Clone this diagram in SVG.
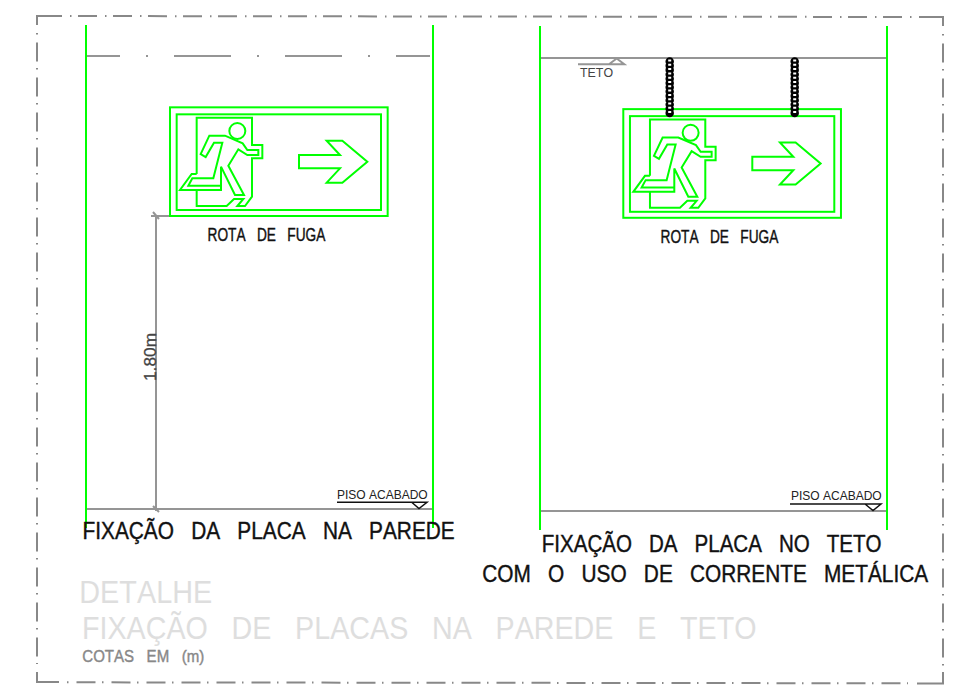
<svg xmlns="http://www.w3.org/2000/svg" width="954" height="696" viewBox="0 0 954 696">
<style>
text{font-family:"Liberation Sans",Arial,sans-serif;font-kerning:none}
.t{word-spacing:.55em}
.blk{fill:#111;stroke:#111;stroke-width:.4;font-size:23.6px}
.rota{fill:#111;stroke:#111;stroke-width:.4;font-size:17.7px}
.pale{fill:#dedede;font-size:32px}
.gray{stroke:#959595;stroke-width:2;fill:none}
.bord{stroke:#888;stroke-width:2;fill:none;stroke-dasharray:19 8 1.5 6.5}
.bordv{stroke:#888;stroke-width:2;fill:none;stroke-dasharray:1.5 8 19 6.5}
.corner{stroke:#888;stroke-width:2;fill:none}
.wall{stroke:#00ff00;stroke-width:2;fill:none}
.g{stroke:#00ff00;fill:none}
.lv{stroke:#111;stroke-width:1.5;fill:none}
.chainb{stroke:#000;stroke-width:8.5;stroke-linecap:round;stroke-dasharray:0 4.3}
.chainw{stroke:#fff;stroke-width:3;stroke-dasharray:2 2.3}
</style>
<defs>
<g id="sign" transform="translate(160,95) scale(.33333)">
<rect class="g" stroke-width="6" x="30" y="37" width="653" height="326"/>
<rect class="g" stroke-width="6" x="50" y="58" width="613" height="287"/>
<path class="g" stroke-width="6" d="M110,237V68H276V150H307V190H276V305L255,333H232L250,312H222L200,333H110V285"/>
<path class="g" stroke-width="6" d="M110,237H95L60,285H183V272H85L97,250H160L187,143H162L137,186L122,177L148,122H195L248,145L262,165H295V180H262L235,163L205,212L252,300H225L183,215V272"/>
<circle class="g" stroke-width="6" cx="232" cy="108" r="24"/>
<path class="g" stroke-width="6" d="M417,180H540L500,137H547L622,200L547,263H500L540,220H417Z"/>
</g>
</defs>
<g id="frame">
<path class="corner" d="M62,16H37V25"/>
<path class="bord" d="M43,16L916,17"/>
<path class="corner" d="M943,26V17H919"/>
<path class="bordv" d="M37,33V664"/>
<path class="corner" d="M37,672V682H59"/>
<path class="bordv" d="M67,682.3L908,683.3"/>
<path class="corner" d="M917,683.5H943V672"/>
<path class="bordv" d="M943,34V666"/>
</g>
<g id="connectors">
<path class="gray" d="M86,56H433" stroke-dasharray="34 26 2 26 57 26 2 26 57 26 2 26 34"/>
<path class="gray" d="M86,509H433"/>
<path class="gray" d="M540,58H887"/>
<path class="gray" d="M540,511H887"/>
<path class="gray" d="M156,216V511"/>
<path class="gray" d="M151,216H197"/>
<path class="gray" stroke-width="1.5" d="M153,212L159,219M153,506L159,512"/>
</g>
<g id="wall-left">
<path class="wall" d="M86,25V528M433,25V528"/>
</g>
<g id="wall-right">
<path class="wall" d="M540,26V530M887,26V530"/>
</g>
<g id="sign-left"><use href="#sign"/>
<text class="t rota" transform="translate(207.5,241) scale(.775,1)">ROTA DE FUGA</text></g>
<g id="sign-right"><use href="#sign" x="453.3" y="1.8"/>
<text class="t rota" transform="translate(660.5,243) scale(.775,1)">ROTA DE FUGA</text></g>
<g id="chains">
<path class="chainb" d="M669.700,61.500V113.200M794.700,61.500V113.200"/>
<path class="chainw" d="M669.700,59.500V114M794.700,59.500V114"/>
</g>
<g id="teto">
<path class="gray" stroke-width="1.5" d="M578,64.300H624.300L616.700,58.500L609,64.300"/>
<text x="580" y="76.700" font-size="12.400" fill="#444">TETO</text>
</g>
<g id="piso-left">
<path class="lv" d="M337,502.300H427L419,508.500L411.700,502.300"/>
<text x="337" y="499" font-size="12" fill="#222">PISO ACABADO</text>
</g>
<g id="piso-right">
<path class="lv" d="M790,504H881L873,510.500L865,504"/>
<text x="791" y="500" font-size="12" fill="#222">PISO ACABADO</text>
</g>
<text transform="translate(155.500,381) rotate(-90)" font-size="17.300" fill="#444" stroke="#444" stroke-width=".3">1.80m</text>
<text class="t blk" transform="translate(82.5,539.3) scale(.883,1)">FIXAÇÃO DA PLACA NA PAREDE</text>
<text class="t blk" transform="translate(541.7,551.7) scale(.871,1)">FIXAÇÃO DA PLACA NO TETO</text>
<text class="t blk" transform="translate(482.3,581.7) scale(.882,1)">COM O USO DE CORRENTE METÁLICA</text>
<text class="pale" transform="translate(79.3,602.7) scale(.901,1)">DETALHE</text>
<text class="t pale" transform="translate(82,639.3) scale(.896,1)">FIXAÇÃO DE PLACAS NA PAREDE E TETO</text>
<text class="t" transform="translate(82.3,662) scale(.897,1)" font-size="16.800" fill="#888" stroke="#888" stroke-width=".4">COTAS EM (m)</text>
</svg>
